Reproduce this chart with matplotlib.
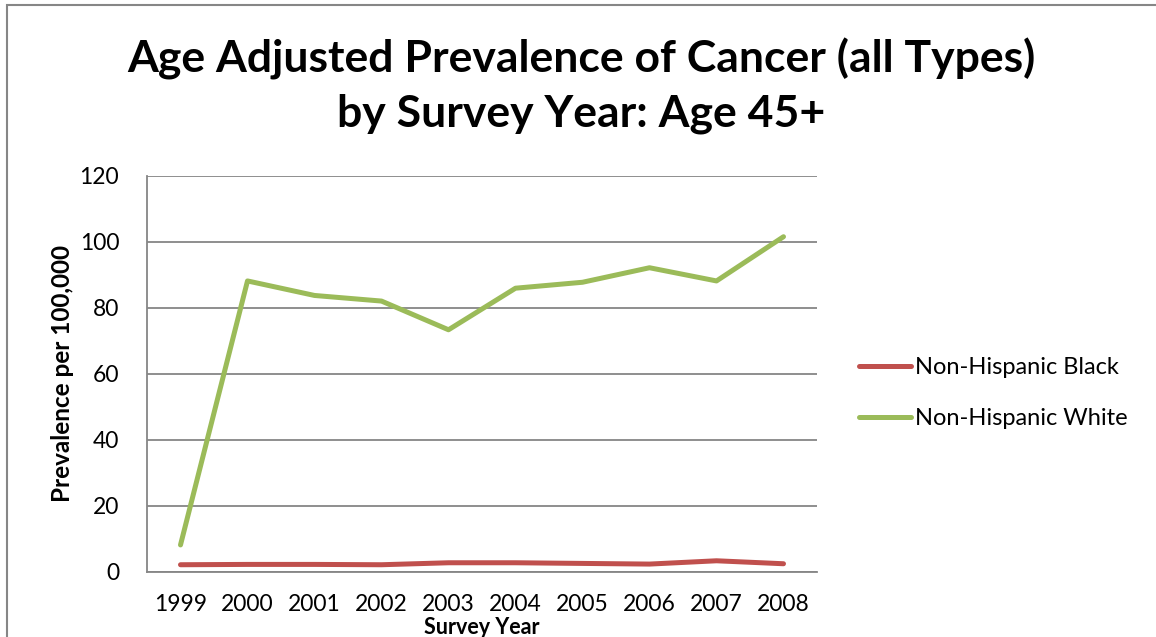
import matplotlib
matplotlib.use("Agg")
from matplotlib import pyplot as plt
from matplotlib.patches import Rectangle

# data
years = ["1999", "2000", "2001", "2002", "2003", "2004", "2005", "2006", "2007", "2008"]
nh_black = [2.2, 2.3, 2.3, 2.2, 2.8, 2.8, 2.6, 2.4, 3.4, 2.5]
nh_white = [8.2, 88.2, 83.8, 82.1, 73.4, 86.0, 87.8, 92.2, 88.2, 101.6]
yticks = [0, 20, 40, 60, 80, 100, 120]

plt.rcParams['font.family'] = ['Lato', 'DejaVu Sans']

fig = plt.figure(figsize=(11.56, 6.37), dpi=100)
ax = fig.add_axes([147/1156, 1-572/637, (817-147)/1156, (572-176)/637])

x = list(range(len(years)))
ax.plot(x, nh_black, color="#C0504D", lw=3.6, solid_capstyle="round", label="Non-Hispanic Black")
ax.plot(x, nh_white, color="#9BBB59", lw=3.6, solid_capstyle="round", label="Non-Hispanic White")

ax.set_xlim(-0.5, len(years) - 0.5)
ax.set_ylim(0, 120)
ax.set_yticks(yticks)
ax.set_xticks(x)
ax.set_xticklabels(years)
ax.yaxis.grid(True, color="#868686", lw=1.3)
ax.set_axisbelow(True)
for s in ["top", "right"]:
    ax.spines[s].set_visible(False)
for s in ["left", "bottom"]:
    ax.spines[s].set_color("#868686")
    ax.spines[s].set_linewidth(1.3)
ax.tick_params(length=0, labelsize=16.5)
ax.tick_params(axis="y", pad=20)
ax.tick_params(axis="x", pad=16)

ax.set_ylabel("Prevalence per 100,000", fontsize=17.5, fontweight="bold", labelpad=4)
ax.set_xlabel("Survey Year", fontsize=15.5, fontweight="bold", labelpad=1)

fig.text(0.503, 1 - 38/637, "Age Adjusted Prevalence of Cancer (all Types)\nby Survey Year: Age 45+",
         ha="center", va="top", fontsize=32, fontweight="bold", linespacing=1.4)

fig.legend(loc="upper left", bbox_to_anchor=(838/1156, 1-336/637), frameon=False,
           fontsize=17, handlelength=2.2, handletextpad=0.15, labelspacing=1.25)

# outer chart border (only top/left visible in the crop)
fig.patches.append(Rectangle((7/1156, -0.1), 1.2, 1 - 5/637 + 0.1, transform=fig.transFigure,
                             fill=False, edgecolor="#868686", lw=1.5))

fig.savefig("out.png", dpi=100)
